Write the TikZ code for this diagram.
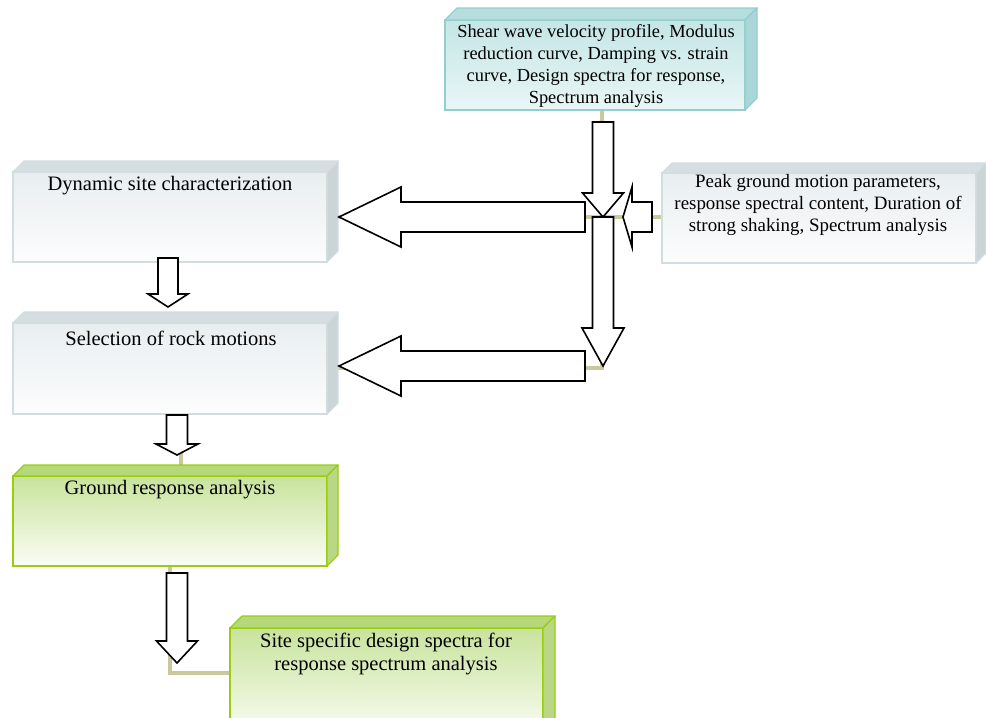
\documentclass[tikz,border=0pt]{standalone}
\usepackage{fontspec}
\setmainfont{Liberation Serif}
\definecolor{tan}{HTML}{C9C99B}
\definecolor{tealedge}{HTML}{93CDCD}
\definecolor{tealfill}{HTML}{DAF0F0}
\definecolor{tealtop}{HTML}{B7DEDE}
\definecolor{tealside}{HTML}{A9D6D6}
\definecolor{greyedge}{HTML}{D3DDE0}
\definecolor{greytop}{HTML}{E8EEF0}
\definecolor{greybot}{HTML}{FCFDFD}
\definecolor{greybev}{HTML}{D5DEE1}
\definecolor{greyside}{HTML}{CBD5D8}
\definecolor{grnedge}{HTML}{9ACD10}
\definecolor{grntop}{HTML}{C8E39C}
\definecolor{grnbot}{HTML}{FBFDF6}
\definecolor{grnbev}{HTML}{B5D97A}
\definecolor{grnside}{HTML}{B9D886}
\tikzset{
  face/.style={rectangle, outer sep=0pt, inner sep=0pt, line width=1.6pt, anchor=north west},
  tealface/.style={face, draw=tealedge, top color=tealtop!60!tealfill, bottom color=tealfill!60!white},
  greyface/.style={face, draw=greyedge, top color=greytop, bottom color=greybot},
  grnface/.style={face, draw=grnedge, top color=grntop, bottom color=grnbot},
  conn/.style={draw=tan, line width=4.5pt},
  blockarrow/.style={draw=black, fill=white, line width=1.6pt, line join=miter},
  lbl/.style={align=center, inner sep=0pt},
  lblT/.style={lbl, font=\fontsize{18.4}{21.7}\selectfont},
  lblP/.style={lbl, font=\fontsize{18.9}{21.6}\selectfont},
  lblL/.style={lbl, font=\fontsize{20.5}{23}\selectfont}
}
\newcommand{\boxdepth}[5]{%
  \filldraw[fill=#3, draw=#5, line width=1.2pt, line join=round]
    (#1.north west) -- ([xshift=#2pt,yshift=#2pt]#1.north west)
    -- ([xshift=#2pt,yshift=#2pt]#1.north east) -- (#1.north east) -- cycle;
  \filldraw[fill=#4, draw=#5, line width=1.2pt, line join=round]
    (#1.north east) -- ([xshift=#2pt,yshift=#2pt]#1.north east)
    -- ([xshift=#2pt,yshift=#2pt]#1.south east) -- (#1.south east) -- cycle;}
% down block arrow: xc, ytop, body half, head half, yhead, ytip
\newcommand{\bdarrow}[6]{%
  \draw[blockarrow] (#1-#3,#2) -- (#1+#3,#2) -- (#1+#3,#5) -- (#1+#4,#5)
    -- (#1,#6) -- (#1-#4,#5) -- (#1-#3,#5) -- cycle;}
% left block arrow: yc, xright, body half, head half, xhead, xtip
\newcommand{\blarrow}[6]{%
  \draw[blockarrow] (#2,#1-#3) -- (#2,#1+#3) -- (#5,#1+#3) -- (#5,#1+#4)
    -- (#6,#1) -- (#5,#1-#4) -- (#5,#1-#3) -- cycle;}
\begin{document}
\begin{tikzpicture}[x=1pt,y=-1pt]
\useasboundingbox (0,0) rectangle (986,718);
\clip (0,0) rectangle (986,718);
\fill[white] (0,0) rectangle (986,718);

% box front faces
\node[tealface, minimum width=300, minimum height=90] (T) at (445,20) {};
\node[greyface, minimum width=314, minimum height=90] (D) at (13,172) {};
\node[greyface, minimum width=314, minimum height=91] (S) at (13,323) {};
\node[grnface, minimum width=314, minimum height=90] (G) at (13,476) {};
\node[greyface, minimum width=314, minimum height=90] (P) at (662,173) {};
\node[grnface, minimum width=313, minimum height=110] (F) at (230,628) {};

% connectors (behind arrows)
\coordinate (J1) at (602,217);
\coordinate (J2) at (602,368);
\draw[conn] (T.south -| J1) -- (J1) -- (J2) -- (J2 -| S.east);
\draw[conn] (J1 -| D.east) -- (J1 -| P.west);
\draw[conn] (S.south -| 181,0) -- (G.north -| 181,0);
\draw[conn] (G.south -| 170,0) -- (170,673) -- (F.west |- 0,673);

% redraw faces over connector ends
\node[tealface, minimum width=300, minimum height=90] at (445,20) {};
\boxdepth{T}{12}{tealtop}{tealside}{tealedge}
\node[greyface, minimum width=314, minimum height=90] at (13,172) {};
\boxdepth{D}{11}{greybev}{greyside}{greyedge}
\node[greyface, minimum width=314, minimum height=91] at (13,323) {};
\boxdepth{S}{11}{greybev}{greyside}{greyedge}
\node[grnface, minimum width=314, minimum height=90] at (13,476) {};
\boxdepth{G}{11}{grnbev}{grnside}{grnedge}
\node[greyface, minimum width=314, minimum height=90] at (662,173) {};
\boxdepth{P}{10}{greybev}{greyside}{greyedge}
\node[grnface, minimum width=313, minimum height=110] at (230,628) {};
\boxdepth{F}{12}{grnbev}{grnside}{grnedge}

% labels
\node[lblT] (Tt) at (596,66) {Shear wave velocity profile, Modulus\\reduction curve, Damping vs. strain\\curve, Design spectra for response,\\Spectrum analysis};
\node[lblL] (Dt) at (170,186) {Dynamic site characterization};
\node[lblL] (St) at (171,338) {Selection of rock motions};
\node[lblL] (Gt) at (170,490) {Ground response analysis};
\node[lblP] (Pt) at (818,205) {Peak ground motion parameters,\\response spectral content, Duration of\\strong shaking, Spectrum analysis};
\node[lblL] (Ft) at (386,654) {Site specific design spectra for\\response spectrum analysis};

% block arrows
\bdarrow{603}{122}{10.5}{20.5}{193}{217}
\bdarrow{603}{217}{10.5}{21}{328}{366}
\blarrow{217}{585}{15}{30}{401}{339}
\blarrow{366}{585}{15}{30}{401}{339}
\blarrow{217}{652}{15}{30}{632}{623}
\bdarrow{168}{258}{10}{20}{294}{307}
\bdarrow{177}{415}{10.5}{21}{444}{455}
\bdarrow{177}{573}{10.5}{20.5}{641}{663}
\end{tikzpicture}
\end{document}
